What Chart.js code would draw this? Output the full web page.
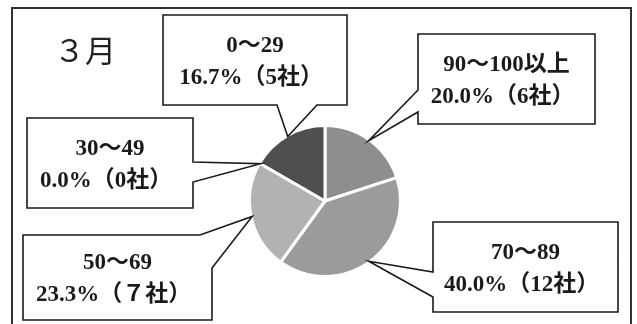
<!DOCTYPE html>
<html>
<head>
<meta charset="utf-8">
<script src="https://cdn.jsdelivr.net/npm/chart.js@4"></script>
<style>
body { margin: 0; background: #fff; }
canvas { display: block; }
</style>
</head>
<body>
<canvas id="myChart" width="637" height="324"></canvas>
<script>
// values, clockwise from 12 o'clock
const title = '３月';
const ranges = ['90～100以上', '70～89', '50～69', '30～49', '0～29'];
const companies = [6, 12, 7, 0, 5];
const shareLabels = ['20.0%（6社）', '40.0%（12社）', '23.3%（７社）', '0.0%（0社）', '16.7%（5社）'];
const sliceColors = ['#8e8e8e', '#9b9b9b', '#b2b2b2', '#a0a0a0', '#4f4f4f'];

// callout boxes: rect + where the pointer leaves the box
const boxes = [
    { rect: [418, 34, 177, 90], side: 'left', a: 90, b: 112 },
    { rect: [433, 222, 185, 90], side: 'left', a: 272, b: 297 },
    { rect: [23, 235, 189, 85], side: 'topright', a: 200, b: 268 },
    { rect: [27, 118, 166, 90], side: 'right', a: 162, b: 182 },
    { rect: [163, 15, 184, 90], side: 'bottom', a: 277, b: 317 }
];

const serif = '"Liberation Serif", "Noto Sans CJK JP", serif';

function calloutPath(ctx, box, tip){
    const [x, y, w, h] = box.rect;
    const r = x + w, btm = y + h;
    ctx.beginPath();
    ctx.moveTo(x, y);
    if(box.side === 'topright'){
        ctx.lineTo(box.a, y);
        ctx.lineTo(tip.x, tip.y);
        ctx.lineTo(r, box.b);
        ctx.lineTo(r, btm);
        ctx.lineTo(x, btm);
    } else {
        ctx.lineTo(r, y);
        if(box.side === 'right'){
            ctx.lineTo(r, box.a);
            ctx.lineTo(tip.x, tip.y);
            ctx.lineTo(r, box.b);
        }
        ctx.lineTo(r, btm);
        if(box.side === 'bottom'){
            ctx.lineTo(box.b, btm);
            ctx.lineTo(tip.x, tip.y);
            ctx.lineTo(box.a, btm);
        }
        ctx.lineTo(x, btm);
        if(box.side === 'left'){
            ctx.lineTo(x, box.b);
            ctx.lineTo(tip.x, tip.y);
            ctx.lineTo(x, box.a);
        }
    }
    ctx.closePath();
}

const calloutPlugin = {
    id: 'callouts',
    afterDatasetsDraw(chart){
        const ctx = chart.ctx;
        ctx.save();
        // outer frame
        ctx.strokeStyle = '#333';
        ctx.lineWidth = 2;
        ctx.strokeRect(12, 8, 619, 330);

        ctx.fillStyle = '#222';
        ctx.font = '31px "Noto Sans CJK JP", sans-serif';
        ctx.textBaseline = 'middle';
        ctx.textAlign = 'left';
        ctx.fillText(title, 54, 50);

        const arcs = chart.getDatasetMeta(0).data;
        arcs.forEach(function(arc, i){
            const p = arc.getProps(['x', 'y', 'startAngle', 'endAngle', 'outerRadius'], true);
            const mid = (p.startAngle + p.endAngle) / 2;
            const tip = {
                x: p.x + Math.cos(mid) * (p.outerRadius - 1),
                y: p.y + Math.sin(mid) * (p.outerRadius - 1)
            };
            const box = boxes[i];
            calloutPath(ctx, box, tip);
            ctx.fillStyle = '#fff';
            ctx.fill();
            ctx.strokeStyle = '#1a1a1a';
            ctx.lineWidth = 1.6;
            ctx.lineJoin = 'miter';
            ctx.stroke();

            const [x, y, w, h] = box.rect;
            const cx = x + w / 2, cy = y + h / 2;
            ctx.fillStyle = '#1a1a1a';
            ctx.textAlign = 'center';
            ctx.font = 'bold 23px ' + serif;
            ctx.fillText(ranges[i], cx, cy - 14);
            ctx.fillText(shareLabels[i], cx - 4, cy + 18);
        });
        ctx.restore();
    }
};

const ctx = document.getElementById('myChart').getContext('2d');
const myChart = new Chart(ctx, {
    type: 'pie',
    data: {
        labels: ranges,
        datasets: [{
            data: companies,
            backgroundColor: sliceColors,
            borderColor: '#fff',
            borderWidth: 3
        }]
    },
    options: {
        responsive: false,
        animation: false,
        layout: {
            padding: { left: 248, right: 235, top: 124, bottom: 46 }
        },
        plugins: {
            legend: { display: false },
            tooltip: { enabled: false }
        }
    },
    plugins: [calloutPlugin]
});
</script>
</body>
</html>
